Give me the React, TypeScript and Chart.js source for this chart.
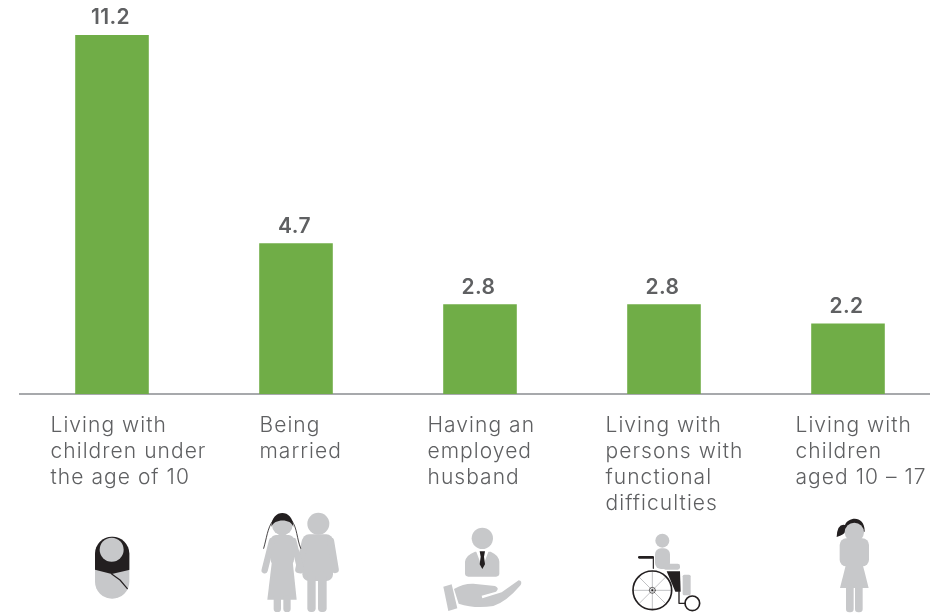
import React, { useEffect, useRef } from "react";
import { Chart, registerables } from "chart.js";

Chart.register(...registerables);

const categories = [
  ["Living with", "children under", "the age of 10"],
  ["Being", "married"],
  ["Having an", "employed", "husband"],
  ["Living with", "persons with", "functional", "difficulties"],
  ["Living with", "children", "aged 10 – 17"],
];
const values = [11.2, 4.7, 2.8, 2.8, 2.2];
const labelOffsets = [-61.5, -36.5, -52.5, -58.5, -52.5];

const GREEN = "#70ad47";
const GREY = "#c7c8ca";
const INK = "#231f20";
const TEXT = "#5f6062";

type C = CanvasRenderingContext2D;

function circle(c: C, x: number, y: number, r: number) {
  c.beginPath();
  c.arc(x, y, r, 0, Math.PI * 2);
  c.fill();
}
function rrect(c: C, x: number, y: number, w: number, h: number, r: number) {
  c.beginPath();
  c.roundRect(x, y, w, h, r);
  c.fill();
}
function stroke(c: C, pts: number[], w: number, col: string, cap: CanvasLineCap = "round") {
  c.strokeStyle = col;
  c.lineWidth = w;
  c.lineCap = cap;
  c.lineJoin = "round";
  c.beginPath();
  for (let i = 0; i < pts.length; i += 2) {
    if (i === 0) c.moveTo(pts[i], pts[i + 1]);
    else c.lineTo(pts[i], pts[i + 1]);
  }
  c.stroke();
}
function poly(c: C, pts: number[]) {
  c.beginPath();
  for (let i = 0; i < pts.length; i += 2) {
    if (i === 0) c.moveTo(pts[i], pts[i + 1]);
    else c.lineTo(pts[i], pts[i + 1]);
  }
  c.closePath();
  c.fill();
}

// Each icon is drawn in the 3x coordinates of its own local frame.
function baby(c: C) {
  c.save();
  c.beginPath();
  c.roundRect(165, 110, 103, 186, 51);
  c.clip();
  c.fillStyle = GREY;
  c.fillRect(160, 105, 115, 195);
  c.fillStyle = INK;
  c.beginPath();
  c.moveTo(160, 105);
  c.lineTo(275, 105);
  c.lineTo(275, 208);
  c.lineTo(215, 222);
  c.lineTo(160, 208);
  c.closePath();
  c.fill();
  c.restore();
  stroke(c, [215, 222, 240, 240, 262, 266], 3.5, INK);
  c.fillStyle = GREY;
  circle(c, 215, 149, 36);
}

function couple(c: C) {
  c.fillStyle = GREY;
  // groom
  circle(c, 265, 56, 33);
  rrect(c, 217, 88, 92, 140, 20);
  stroke(c, [226, 108, 206, 194], 21, GREY);
  stroke(c, [302, 108, 316, 194], 21, GREY);
  rrect(c, 232, 200, 25, 121, 11);
  rrect(c, 264, 200, 26, 121, 11);
  // bride
  circle(c, 157, 60, 31);
  rrect(c, 122, 90, 70, 90, 16);
  stroke(c, [126, 108, 104, 196], 19, GREY);
  stroke(c, [190, 108, 212, 196], 19, GREY);
  poly(c, [128, 150, 186, 150, 200, 284, 112, 284]);
  rrect(c, 131, 270, 22, 51, 10);
  rrect(c, 160, 270, 22, 51, 10);
  // veil
  c.fillStyle = INK;
  c.beginPath();
  c.moveTo(124, 66);
  c.bezierCurveTo(124, 10, 190, 10, 190, 66);
  c.bezierCurveTo(184, 40, 132, 40, 124, 66);
  c.fill();
  c.strokeStyle = INK;
  c.lineWidth = 2.5;
  c.beginPath();
  c.moveTo(128, 48);
  c.bezierCurveTo(112, 70, 110, 100, 101, 130);
  c.moveTo(186, 48);
  c.bezierCurveTo(202, 70, 200, 100, 212, 130);
  c.stroke();
}

function employee(c: C) {
  c.fillStyle = GREY;
  circle(c, 757, 100, 32);
  c.beginPath();
  c.moveTo(735, 140);
  c.lineTo(782, 140);
  c.quadraticCurveTo(806, 150, 808, 170);
  c.lineTo(808, 205);
  c.quadraticCurveTo(808, 215, 798, 215);
  c.lineTo(715, 215);
  c.quadraticCurveTo(705, 215, 705, 205);
  c.lineTo(705, 170);
  c.quadraticCurveTo(708, 150, 735, 140);
  c.fill();
  c.fillStyle = "#ffffff";
  poly(c, [738, 138, 776, 138, 757, 188]);
  c.fillStyle = INK;
  poly(c, [749, 139, 765, 139, 762, 155, 765, 178, 757, 192, 749, 178, 752, 155]);
  c.fillStyle = GREY;
  // hand
  poly(c, [640, 245, 665, 238, 682, 310, 655, 318]);
  c.beginPath();
  c.moveTo(672, 252);
  c.quadraticCurveTo(700, 235, 730, 236);
  c.lineTo(795, 243);
  c.quadraticCurveTo(810, 250, 798, 260);
  c.lineTo(755, 272);
  c.lineTo(757, 280);
  c.lineTo(815, 262);
  c.lineTo(866, 226);
  c.quadraticCurveTo(878, 228, 872, 240);
  c.quadraticCurveTo(830, 290, 790, 303);
  c.quadraticCurveTo(735, 312, 686, 296);
  c.closePath();
  c.fill();
}

function wheelchair(c: C) {
  c.fillStyle = GREY;
  circle(c, 187, 107, 21);
  rrect(c, 165, 130, 45, 62, 18);
  rrect(c, 190, 176, 50, 18, 7);
  rrect(c, 248, 209, 24, 62, 5);
  // lap
  c.fillStyle = INK;
  poly(c, [200, 199, 240, 199, 242, 260, 226, 260]);
  // handle + frame
  stroke(c, [118, 157, 158, 157], 8, INK);
  stroke(c, [160, 157, 160, 190], 3.5, INK);
  stroke(c, [237, 260, 237, 295, 256, 295], 4, INK);
  // spokes
  const cx = 157, cy = 256, r = 58;
  for (let i = 0; i < 8; i++) {
    const a = (i * Math.PI) / 4;
    stroke(c, [cx, cy, cx + Math.cos(a) * r, cy + Math.sin(a) * r], 2.5, "#b5b6b8");
  }
  c.strokeStyle = INK;
  c.lineWidth = 5;
  c.beginPath();
  c.arc(cx, cy, r, 0, Math.PI * 2);
  c.stroke();
  c.lineWidth = 2;
  c.beginPath();
  c.arc(cx, cy, 9, 0, Math.PI * 2);
  c.stroke();
  c.fillStyle = INK;
  circle(c, cx, cy, 3);
  c.lineWidth = 5;
  c.beginPath();
  c.arc(277, 295, 22, 0, Math.PI * 2);
  c.stroke();
}

function girl(c: C) {
  c.fillStyle = INK;
  c.beginPath();
  c.moveTo(735, 60);
  c.bezierCurveTo(745, 35, 795, 30, 794, 80);
  c.lineTo(735, 82);
  c.quadraticCurveTo(733, 88, 710, 96);
  c.quadraticCurveTo(712, 55, 735, 60);
  c.fill();
  c.fillStyle = GREY;
  circle(c, 763, 82, 29);
  rrect(c, 719, 100, 88, 84, 20);
  poly(c, [740, 170, 786, 170, 806, 249, 720, 249]);
  rrect(c, 738, 240, 23, 82, 10);
  rrect(c, 765, 240, 23, 82, 10);
}

// Left edge of each icon's local frame, relative to its category centre.
const icons: { draw: (c: C) => void; origin: number }[] = [
  { draw: baby, origin: 40 - 112 },
  { draw: couple, origin: 230 - 296 },
  { draw: employee, origin: 230 - 480 },
  { draw: wheelchair, origin: 600 - 664 },
  { draw: girl, origin: 600 - 848 },
];
const iconTops = [500, 505, 505, 505, 505];

const annotations = {
  id: "annotations",
  afterDatasetsDraw(chart: any) {
    const c: C = chart.ctx;
    const xs = chart.scales.x;
    const meta = chart.getDatasetMeta(0);
    c.save();
    // value labels
    c.fillStyle = TEXT;
    c.textAlign = "center";
    c.textBaseline = "middle";
    c.font = '600 21px "Inter"';
    (c as any).letterSpacing = "0.4px";
    values.forEach((v, i) => {
      const bar = meta.data[i];
      c.fillText(v.toFixed(1), bar.x - 1.5, bar.y - 17);
    });
    // category labels
    c.textAlign = "left";
    c.font = '300 21px "Inter"';
    (c as any).letterSpacing = "1.05px";
    categories.forEach((lines, i) => {
      const x = xs.getPixelForValue(i) + labelOffsets[i];
      lines.forEach((line, j) => c.fillText(line, x, 425.5 + j * 26));
    });
    (c as any).letterSpacing = "0px";
    // pictograms
    icons.forEach((icon, i) => {
      c.save();
      c.translate(xs.getPixelForValue(i) + icon.origin, iconTops[i]);
      c.scale(1 / 3, 1 / 3);
      icon.draw(c);
      c.restore();
    });
    c.restore();
  },
};

export default function App() {
  const ref = useRef<HTMLCanvasElement>(null);
  useEffect(() => {
    document.documentElement.style.overflow = "hidden";
    document.body.style.margin = "0";
    document.body.style.overflow = "hidden";
    const chart = new Chart(ref.current!, {
      type: "bar",
      data: {
        labels: categories.map((l) => l.join(" ")),
        datasets: [
          {
            data: values,
            backgroundColor: GREEN,
            categoryPercentage: 1,
            barPercentage: 0.4,
          },
        ],
      },
      options: {
        animation: false,
        responsive: false,
        layout: { padding: { left: 20, right: 0, top: 0, bottom: 219 } },
        plugins: { legend: { display: false }, tooltip: { enabled: false } },
        scales: {
          x: {
            grid: { display: false, drawTicks: false },
            border: { color: "#a7a9ac", width: 2 },
            ticks: { display: false },
          },
          y: { display: false, min: 0, max: 12.29 },
        },
      },
      plugins: [annotations],
    });
    return () => chart.destroy();
  }, []);
  return (
    <div style={{ position: "absolute", left: 0, top: 0, width: 930, height: 613, overflow: "hidden" }}>
      <canvas ref={ref} width={940} height={613} style={{ display: "block" }} />
    </div>
  );
}
